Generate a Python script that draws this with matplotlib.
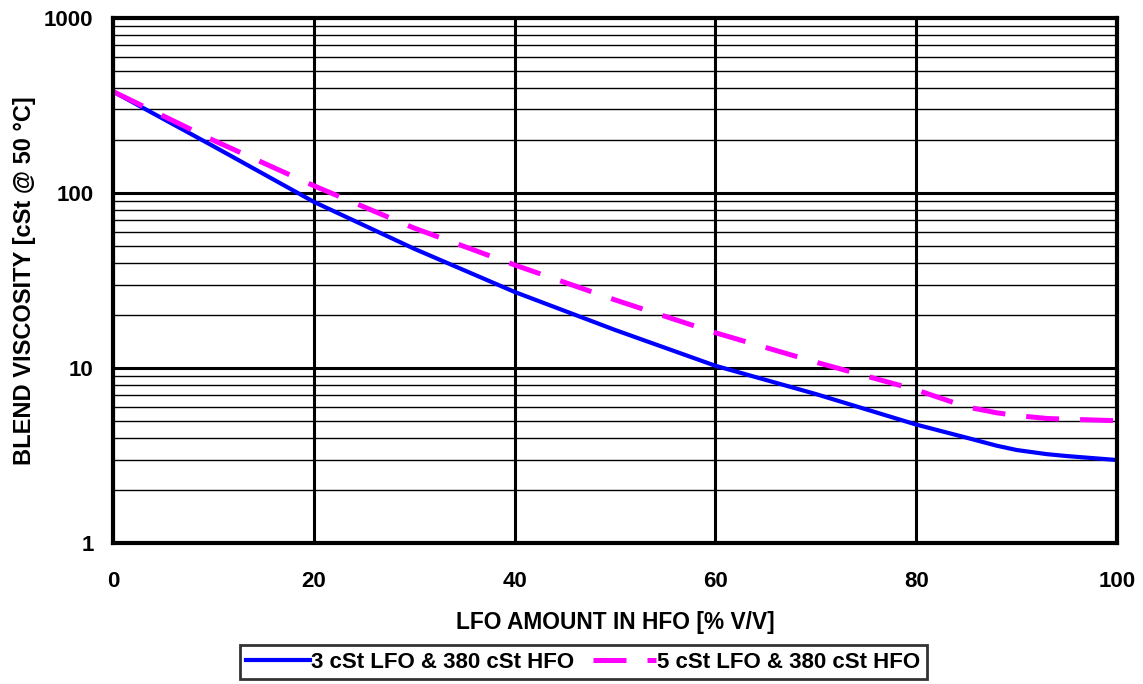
import numpy as np
import matplotlib.pyplot as plt
from matplotlib.ticker import LogLocator, FixedLocator, NullFormatter

plt.rcParams['font.family'] = ['Liberation Sans', 'DejaVu Sans']
plt.rcParams['font.weight'] = 'bold'

# values
lfo_pct = [0, 10, 20, 30, 40, 50, 60, 70, 80, 85, 88, 90, 93, 95, 100]
visc_3cst = [380, 185, 89, 48, 27.2, 16.5, 10.3, 7.1, 4.75, 4.0, 3.6, 3.4, 3.22, 3.14, 2.98]
visc_5cst = [380, 200, 110, 63, 38.8, 24.5, 15.9, 10.8, 7.5, 6.0, 5.55, 5.35, 5.15, 5.1, 5.0]

label_3 = '3 cSt LFO & 380 cSt HFO'
label_5 = '5 cSt LFO & 380 cSt HFO'

fig = plt.figure(figsize=(11.43, 6.84), dpi=100)
ax = fig.add_axes([0.0989, 0.2061, 0.8784, 0.7676])

ax.set_yscale('log')
ax.set_xlim(0, 100)
ax.set_ylim(1, 1000)

ax.plot(lfo_pct, visc_3cst, color='#0000ff', lw=3, label=label_3, zorder=3)
ax.plot(lfo_pct, visc_5cst, color='#ff00ff', lw=3.6, dashes=(6.6, 4.2),
        label=label_5, zorder=3)

ax.xaxis.set_major_locator(FixedLocator([0, 20, 40, 60, 80, 100]))
ax.yaxis.set_major_locator(FixedLocator([1, 10, 100, 1000]))
ax.yaxis.set_minor_locator(LogLocator(base=10, subs=np.arange(2, 10)))
ax.yaxis.set_minor_formatter(NullFormatter())
ax.set_yticklabels(['1', '10', '100', '1000'])

ax.grid(which='major', color='black', lw=2.2)
ax.grid(which='minor', axis='y', color='black', lw=1)
ax.tick_params(which='both', length=0, labelsize=16)
ax.tick_params(axis='x', pad=20)
ax.tick_params(axis='y', pad=14)
for s in ax.spines.values():
    s.set_linewidth(3)
    s.set_zorder(4)

ax.set_xlabel('LFO AMOUNT IN HFO [% V/V]', fontsize=16.4, fontweight='bold', labelpad=14)
ax.set_ylabel('BLEND VISCOSITY [cSt @ 50 °C]', fontsize=17, fontweight='bold', labelpad=6)

leg = fig.legend(loc='upper center', bbox_to_anchor=(0.5105, 0.057), ncol=2,
                 frameon=True, fancybox=False, fontsize=16, handlelength=2.85,
                 handletextpad=0.05, columnspacing=0.85, borderpad=0.3,
                 borderaxespad=0)
leg.get_frame().set_edgecolor('black')
leg.get_frame().set_linewidth(2)

fig.savefig('out.png', dpi=100)
